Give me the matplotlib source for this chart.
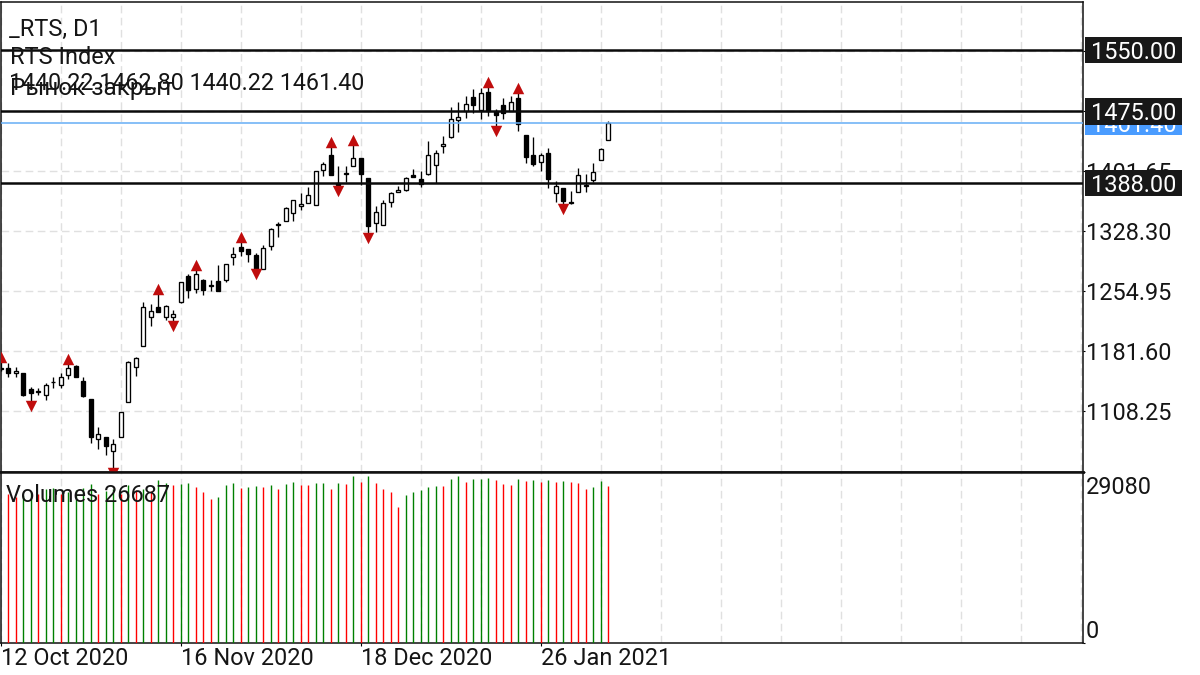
import numpy as np
import matplotlib
matplotlib.use('Agg')
import matplotlib.pyplot as plt
from matplotlib.patches import Rectangle

plt.rcParams['font.family'] = ['Roboto', 'DejaVu Sans']

# daily bars, first one is cut off by the left edge of the chart
opens = [1161.5, 1160.8, 1154.7, 1154.7, 1135.9, 1132.5, 1128.2, 1143.7, 1140.8, 1152.3, 1164.1,
         1145.7, 1122.9, 1074.0, 1076.5, 1060.2, 1077.3, 1119.6, 1162.0, 1188.5, 1223.6,
         1235.4, 1223.6, 1223.2, 1241.5, 1273.3, 1257.8, 1269.2, 1261.1, 1267.2, 1269.2,
         1297.3, 1309.6, 1306.3, 1299.8, 1282.3, 1310.0, 1335.6, 1340.9, 1351.1, 1359.7,
         1362.9, 1360.5, 1403.7, 1421.6, 1387.4, 1398.0, 1408.2, 1418.0, 1393.5, 1338.1,
         1336.1, 1363.7, 1376.8, 1378.4, 1396.7, 1392.2, 1398.0, 1409.0, 1433.0, 1443.2,
         1464.0, 1475.4, 1492.9, 1476.6, 1498.2, 1475.0, 1482.3, 1475.8, 1490.9, 1446.0,
         1421.6, 1413.4, 1424.4, 1375.1, 1381.7, 1363.7, 1376.8, 1383.3, 1391.4, 1415.5,
         1440.22]
highs = [1169.0, 1167.7, 1162.8, 1155.5, 1137.6, 1136.4, 1142.5, 1150.6, 1154.7, 1166.9, 1164.5,
         1149.8, 1123.3, 1089.5, 1076.9, 1074.0, 1107.8, 1170.2, 1174.3, 1241.5, 1239.9,
         1252.9, 1237.8, 1232.6, 1266.4, 1275.7, 1281.4, 1270.0, 1268.4, 1286.7, 1288.3,
         1309.2, 1316.1, 1306.6, 1301.8, 1311.6, 1332.4, 1339.3, 1358.1, 1367.0, 1375.2,
         1382.5, 1402.0, 1413.1, 1432.2, 1408.6, 1407.8, 1434.3, 1418.3, 1393.8, 1358.9,
         1367.0, 1376.8, 1383.7, 1395.1, 1404.5, 1402.4, 1438.3, 1427.7, 1445.2, 1479.9,
         1486.8, 1494.1, 1501.9, 1503.1, 1505.9, 1477.4, 1491.3, 1493.7, 1498.6, 1446.3,
         1443.2, 1424.4, 1429.7, 1389.8, 1382.0, 1378.0, 1405.3, 1398.0, 1412.2, 1430.1,
         1462.80]
lows = [1158.0, 1150.6, 1150.6, 1127.5, 1120.0, 1128.2, 1122.1, 1136.4, 1136.4, 1148.2, 1150.2,
        1126.2, 1069.9, 1062.2, 1054.9, 1038.6, 1077.0, 1119.2, 1151.4, 1188.0, 1212.2,
        1230.0, 1219.5, 1218.3, 1241.2, 1246.8, 1252.9, 1250.9, 1255.8, 1255.4, 1266.0,
        1287.2, 1298.6, 1290.8, 1281.4, 1282.0, 1305.5, 1321.4, 1340.6, 1341.4, 1354.0,
        1362.6, 1360.2, 1395.5, 1397.3, 1383.3, 1388.2, 1407.9, 1385.4, 1326.3, 1327.5,
        1335.8, 1357.6, 1375.9, 1378.1, 1394.8, 1382.1, 1397.7, 1387.4, 1424.4, 1442.9,
        1450.1, 1467.2, 1472.5, 1465.6, 1469.7, 1456.2, 1465.6, 1475.5, 1451.3, 1412.2,
        1408.5, 1402.4, 1381.7, 1364.5, 1361.3, 1362.2, 1376.4, 1376.8, 1389.0, 1415.2,
        1440.22]
closes = [1160.0, 1154.7, 1157.6, 1128.2, 1130.2, 1133.0, 1140.4, 1144.3, 1150.6, 1161.6, 1150.6,
          1127.4, 1077.3, 1080.9, 1065.9, 1067.9, 1107.4, 1168.6, 1173.0, 1235.8, 1230.5,
          1230.1, 1236.6, 1227.3, 1266.0, 1256.2, 1276.2, 1256.2, 1262.7, 1255.8, 1288.0,
          1301.0, 1303.9, 1301.0, 1282.7, 1307.5, 1331.6, 1337.3, 1357.2, 1366.6, 1361.3,
          1373.1, 1401.7, 1410.2, 1397.6, 1385.4, 1399.2, 1418.0, 1398.4, 1334.4, 1351.9,
          1362.9, 1374.7, 1378.4, 1393.1, 1395.1, 1385.7, 1422.0, 1424.0, 1434.6, 1466.0,
          1467.6, 1483.5, 1482.7, 1497.8, 1475.0, 1470.9, 1472.5, 1486.8, 1459.5, 1418.7,
          1410.2, 1421.2, 1392.7, 1383.3, 1365.4, 1362.5, 1397.1, 1384.9, 1400.4, 1428.9,
          1461.40]

fractals_up = [-1, 8, 20, 25, 31, 43, 46, 64, 68]
fractals_down = [3, 14, 22, 33, 44, 48, 65, 74]

# volume bars start with the first full candle, 1 = green, 0 = red
volumes = [25384, 24810, 25212, 25671, 25384, 26245, 26360, 25384, 25671, 25958,
           26360, 26991, 25384, 25786, 26245, 25384, 26933, 25958, 26245, 25786,
           27794, 27277, 26818, 26991, 27220, 26474, 25728, 24524, 24810, 26818,
           27220, 26417, 26474, 26704, 26589, 26818, 26245, 27105, 27335, 26933,
           26933, 27220, 27220, 26245, 27220, 26991, 28482, 27450, 28482, 27220,
           26130, 25728, 23147, 25212, 25728, 26015, 26589, 26761, 26704, 27966,
           28482, 27450, 27851, 27966, 28138, 27794, 26991, 26933, 27909, 27622,
           27736, 27335, 27794, 27450, 27622, 27335, 27220, 26245, 26589, 27564,
           26704]
volume_up = [0, 0, 1, 1, 0, 1, 1, 0, 1, 1,
             1, 1, 0, 1, 1, 0, 1, 0, 1, 0,
             1, 1, 0, 1, 1, 0, 0, 0, 1, 1,
             1, 0, 1, 1, 0, 1, 0, 1, 1, 0,
             0, 1, 1, 0, 1, 0, 1, 0, 1, 0,
             0, 0, 0, 1, 1, 1, 1, 1, 0, 1,
             1, 0, 1, 1, 1, 0, 0, 0, 1, 0,
             1, 0, 1, 0, 1, 0, 0, 0, 1, 1,
             0]

price_ticks = [1108.25, 1181.60, 1254.95, 1328.30, 1401.65, 1475.00, 1548.35]
hlines = [1550.00, 1475.00, 1388.00]
last_price = 1461.40
grid_bars = list(range(-1, 144, 8))
date_bars = [-1, 23, 47, 71]
date_labels = ['12 Oct 2020', '16 Nov 2020', '18 Dec 2020', '26 Jan 2021']
volume_max = 29080

W, H = 1200, 675
FS = 16.9
GRID = '#e0e0e0'
DASH = (0, (5.5, 3.2))
TEXT = '#151515'

fig = plt.figure(figsize=(12, 6.75), dpi=100, facecolor='white')


def px_axes(left, top, right, bottom):
    return fig.add_axes([left / W, 1 - bottom / H, (right - left) / W, (bottom - top) / H])


ax = px_axes(0.9, 1.5, 1083, 472)
vax = px_axes(0.9, 472, 1083, 642.5)

xlim = (-1, 143.28)
ax.set_xlim(*xlim)
vax.set_xlim(*xlim)
ax.set_ylim(1034.2, 1609.4)
vax.set_ylim(0, volume_max)

for a in (ax, vax):
    a.set_axisbelow(True)
    for s in a.spines.values():
        s.set_linewidth(1.1)
        s.set_color('#111111')
ax.spines['bottom'].set_linewidth(1.8)
vax.spines['top'].set_linewidth(1.8)

# price pane
ax.set_xticks(grid_bars)
ax.set_yticks(price_ticks)
ax.set_yticklabels(['%.2f' % p for p in price_ticks], fontsize=FS, color=TEXT)
ax.yaxis.tick_right()
ax.tick_params(axis='y', length=1.5, width=0.8, pad=1)
ax.tick_params(axis='x', length=0, labelbottom=False)
ax.grid(axis='both', color=GRID, lw=1, linestyle=DASH)

idx = np.arange(len(opens)) - 1
o, h, l, c = map(np.array, (opens, highs, lows, closes))
ax.vlines(idx, l, h, color='black', lw=0.95, zorder=3)
body_low = np.minimum(o, c)
body_size = np.abs(c - o)
face = ['white' if cl > op else 'black' for op, cl in zip(opens, closes)]
ax.bar(idx, body_size, 0.55, bottom=body_low, color=face, edgecolor='black', linewidth=0.95, zorder=4)

ax.scatter(fractals_up, [highs[i + 1] + 5.6 for i in fractals_up], marker='^', s=68,
           color='#c00d0d', linewidths=0, zorder=5)
ax.scatter(fractals_down, [lows[i + 1] - 5.6 for i in fractals_down], marker='v', s=68,
           color='#c00d0d', linewidths=0, zorder=5)

for p in hlines:
    ax.axhline(p, color='#0a0a0a', lw=1.8, zorder=6)
ax.axhline(last_price, color='#66aef5', lw=1.1, zorder=6)

# boxes over the price scale
trans = ax.get_yaxis_transform()
box_x, box_w, text_x = 1.0019, 0.0897, 1.0076


def price_box(price, half, fc, zorder):
    ax.add_patch(Rectangle((box_x, price - half), box_w, 2 * half, transform=trans, fc=fc, ec='none',
                           clip_on=False, zorder=zorder))
    ax.text(text_x, price, '%.2f' % price, transform=trans, fontsize=FS, color='white',
            va='center_baseline', ha='left', zorder=zorder + 0.5, clip_on=False)


price_box(last_price, 15.5, '#4a9cff', 10)
for p in hlines:
    price_box(p, 16, '#181818', 11)

# volume pane
vol_x = np.arange(len(volumes))
vol_col = ['#008000' if v else '#ff0000' for v in volume_up]
vax.vlines(vol_x, 0, volumes, colors=vol_col, lw=1.0, zorder=3)
vax.set_yticks([0, volume_max])
vax.set_yticklabels([])
vax.yaxis.tick_right()
vax.tick_params(axis='y', length=1.5, width=0.8)
vax.set_xticks(date_bars, labels=date_labels, fontsize=FS, color=TEXT, ha='left')
vax.set_xticks(grid_bars, minor=True)
vax.grid(axis='x', which='both', color=GRID, lw=1, linestyle=DASH)
vax.tick_params(axis='x', which='major', length=2, width=0.8, pad=1.5)
vax.tick_params(axis='x', which='minor', length=0)

fig.text(1086 / W, 1 - 487.5 / H, '29080', fontsize=FS, color=TEXT, va='center', ha='left')
fig.text(1086 / W, 1 - 632 / H, '0', fontsize=FS, color=TEXT, va='center', ha='left')

# chart header, overlaps as in the terminal
header = [('_RTS, D1', 9, 29, FS), ('RTS Index', 10, 58, FS),
          ('1440.22 1462.80 1440.22 1461.40', 9, 84, 16.75),
          ('Рынок закрыт', 10, 89, 17.6), ('Volumes 26687', 6, 495, FS)]
for txt, x, y, size in header:
    fig.text(x / W, 1 - y / H, txt, fontsize=size, color=TEXT, va='center', ha='left', zorder=20)

fig.savefig('out.png', dpi=100, facecolor='white')
